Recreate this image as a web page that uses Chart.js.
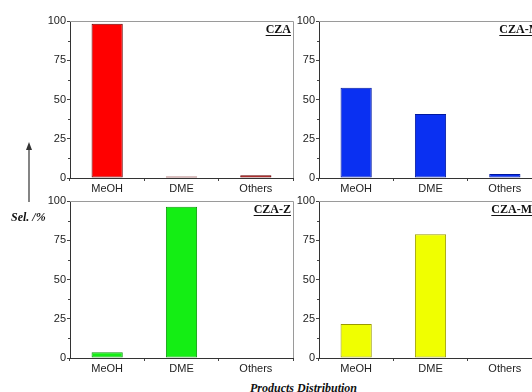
<!DOCTYPE html>
<html>
<head>
<meta charset="utf-8">
<script src="https://cdn.jsdelivr.net/npm/chart.js@4/dist/chart.umd.min.js"></script>
<style>
  html, body { margin:0; padding:0; background:#fff; }
  body { width:532px; height:392px; overflow:hidden; position:relative; }
  canvas { position:absolute; }
  .lbl { position:absolute; font-family:"Liberation Serif","Times New Roman",serif; font-weight:bold; font-style:italic; font-size:12px; color:#111; white-space:nowrap; }
  svg { position:absolute; }
</style>
</head>
<body>
<canvas id="c1" width="300" height="200" style="left:0;top:0"></canvas>
<canvas id="c2" width="260" height="200" style="left:296px;top:0"></canvas>
<canvas id="c3" width="300" height="200" style="left:0;top:180px"></canvas>
<canvas id="c4" width="260" height="200" style="left:296px;top:180px"></canvas>
<svg width="20" height="70" style="left:19px;top:140px">
  <line x1="10" y1="6" x2="10" y2="62" stroke="#333" stroke-width="1.2"/>
  <polygon points="10,2 7,10 13,10" fill="#333"/>
</svg>
<div class="lbl" style="left:11px;top:210px">Sel. /%</div>
<div class="lbl" style="left:250px;top:381px">Products Distribution</div>
<script>
const categories = ['MeOH', 'DME', 'Others'];
const czaValues = [98.3, 1.0, 1.7];
const czaMValues = [57.5, 40.8, 2.5];
const czaZValues = [3.6, 96.4, 0];
const czaMZValues = [21.7, 78.8, 0];
const yTickValues = [0, 25, 50, 75, 100];
const yMinorTicks = [12.5, 37.5, 62.5, 87.5];
const panelLabels = ['CZA', 'CZA-M', 'CZA-Z', 'CZA-MZ'];

const framePlugin = {
  id: 'frame',
  afterDraw(chart, args, opts) {
    const {ctx, chartArea: a, scales} = chart;
    ctx.save();
    ctx.strokeStyle = '#9a9a9a';
    ctx.lineWidth = 1;
    ctx.beginPath();
    ctx.moveTo(a.left, a.top + 0.5);
    ctx.lineTo(a.right + 0.5, a.top + 0.5);
    ctx.lineTo(a.right + 0.5, a.bottom);
    ctx.stroke();
    // minor ticks
    ctx.strokeStyle = '#444';
    ctx.beginPath();
    yMinorTicks.forEach(v => {
      const y = Math.round(scales.y.getPixelForValue(v)) + 0.5;
      ctx.moveTo(a.left - 2, y);
      ctx.lineTo(a.left, y);
    });
    ctx.stroke();
    // panel label
    ctx.font = 'bold 12px "Liberation Serif", "Times New Roman", serif';
    ctx.fillStyle = '#111';
    ctx.textAlign = 'right';
    ctx.textBaseline = 'alphabetic';
    const x = a.right - 2, y = a.top + 12;
    ctx.fillText(opts.label, x, y);
    const w = ctx.measureText(opts.label).width;
    ctx.strokeStyle = '#111';
    ctx.beginPath();
    ctx.moveTo(x - w, y + 2.5);
    ctx.lineTo(x, y + 2.5);
    ctx.stroke();
    ctx.restore();
  }
};

function makeChart(id, values, fill, border, label, yWidth, padRight) {
  return new Chart(document.getElementById(id), {
    type: 'bar',
    data: {
      labels: categories,
      datasets: [{
        data: values,
        backgroundColor: fill,
        borderColor: border,
        borderWidth: 1,
        borderSkipped: false,
        categoryPercentage: 1,
        barPercentage: 0.42
      }]
    },
    options: {
      responsive: false,
      animation: false,
      devicePixelRatio: 1,
      layout: { padding: { top: 21, right: padRight, left: 0, bottom: 0 } },
      plugins: { legend: { display: false }, tooltip: { enabled: false }, frame: { label } },
      scales: {
        x: {
          grid: { display: true, drawOnChartArea: false, offset: true, tickLength: 3, color: '#444' },
          border: { color: '#333', width: 1 },
          ticks: { color: '#222', padding: 1, font: { family: '"Liberation Sans", Arial, sans-serif', size: 11 } },
          afterFit(s) { s.height = 22; }
        },
        y: {
          min: 0, max: 100,
          afterBuildTicks(s) { s.ticks = yTickValues.map(v => ({ value: v })); },
          grid: { display: true, drawOnChartArea: false, tickLength: 3, color: '#444' },
          border: { color: '#333', width: 1 },
          ticks: { color: '#222', padding: 1, font: { family: '"Liberation Sans", Arial, sans-serif', size: 11 } },
          afterFit(s) { s.width = yWidth; }
        }
      }
    },
    plugins: [framePlugin]
  });
}

makeChart('c1', czaValues, '#ff0000', '#6a0000', panelLabels[0], 70, 7);
makeChart('c2', czaMValues, '#0a30f2', '#0018a0', panelLabels[1], 23, 14);
makeChart('c3', czaZValues, '#14ee14', '#0a9a0a', panelLabels[2], 70, 7);
makeChart('c4', czaMZValues, '#f0ff00', '#9a9a00', panelLabels[3], 23, 14);
</script>
</body>
</html>
